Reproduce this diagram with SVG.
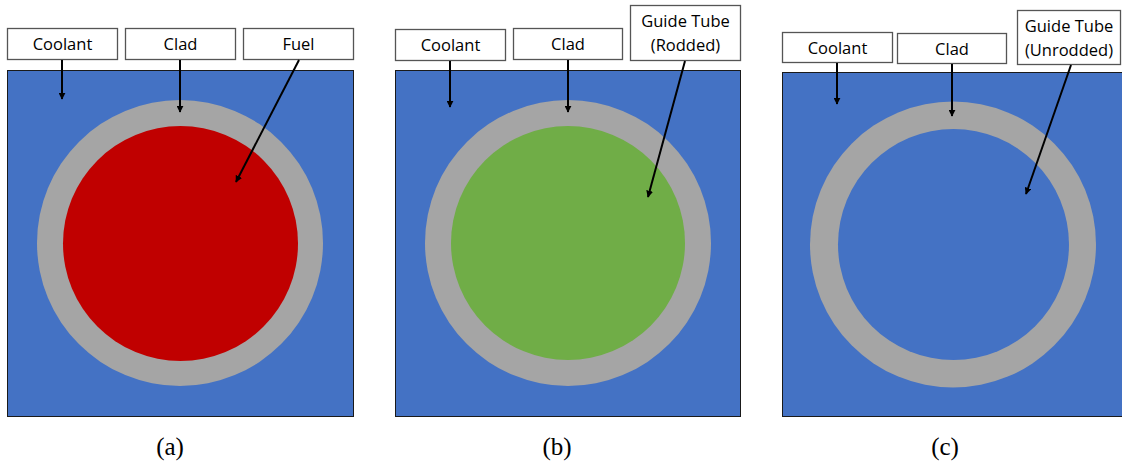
<svg xmlns="http://www.w3.org/2000/svg" width="1122" height="461" viewBox="0 0 1122 461">
  <defs>
    <marker id="arrow" viewBox="0 0 10 10" refX="9" refY="5" markerWidth="7" markerHeight="7" markerUnits="userSpaceOnUse" orient="auto">
      <path d="M0,0 L10,5 L0,10 z" fill="#000"/>
    </marker>
    <style>
      .coolant { fill: #4472C4; stroke: #1a1a1a; stroke-width: 1; }
      .clad { fill: #A5A5A5; }
      .fuel { fill: #C00000; }
      .rodded { fill: #70AD47; }
      .water { fill: #4472C4; }
      .label rect { fill: #fff; stroke: #555; stroke-width: 1.3; }
      .label text { font-family: "Open Sans", "Liberation Sans", sans-serif; font-size: 16.5px; fill: #000; text-anchor: middle; }
      .conn line { stroke: #000; stroke-width: 2; marker-end: url(#arrow); }
      .caption { font-family: "Liberation Serif", "DejaVu Serif", serif; font-size: 25px; fill: #000; text-anchor: middle; }
    </style>
  </defs>

  <rect width="1122" height="461" fill="#fff"/>

  <!-- Panel (a): fuel pin -->
  <g id="pin-a">
    <rect class="coolant" x="7.5" y="70.5" width="346" height="346"/>
    <circle class="clad" cx="180" cy="243" r="143"/>
    <circle class="fuel" cx="180.5" cy="243.5" r="117.5"/>
  </g>
  <g id="label-a-coolant" class="label">
    <rect x="7.5" y="28.5" width="110" height="31"/>
    <text x="62.5" y="50">Coolant</text>
  </g>
  <g id="label-a-clad" class="label">
    <rect x="125.5" y="28.5" width="110" height="31"/>
    <text x="180.5" y="50">Clad</text>
  </g>
  <g id="label-a-fuel" class="label">
    <rect x="243.5" y="28.5" width="110" height="31"/>
    <text x="298.5" y="50">Fuel</text>
  </g>

  <!-- Panel (b): rodded guide tube -->
  <g id="pin-b">
    <rect class="coolant" x="395.5" y="70.5" width="345" height="346"/>
    <circle class="clad" cx="568" cy="243" r="143"/>
    <circle class="rodded" cx="568" cy="243" r="117"/>
  </g>
  <g id="label-b-coolant" class="label">
    <rect x="395.5" y="29.5" width="110" height="31"/>
    <text x="450.5" y="51">Coolant</text>
  </g>
  <g id="label-b-clad" class="label">
    <rect x="513.5" y="28.5" width="109" height="31"/>
    <text x="568" y="50">Clad</text>
  </g>
  <g id="label-b-guide" class="label">
    <rect x="630.5" y="5.5" width="110" height="55"/>
    <text x="685.5" y="27">Guide Tube</text>
    <text x="685.5" y="51">(Rodded)</text>
  </g>

  <!-- Panel (c): unrodded guide tube -->
  <g id="pin-c">
    <rect class="coolant" x="782.5" y="72.5" width="345" height="344"/>
    <circle class="clad" cx="953" cy="244.5" r="143"/>
    <circle class="water" cx="953.5" cy="244.5" r="115.5"/>
  </g>
  <g id="label-c-coolant" class="label">
    <rect x="782.5" y="32.5" width="110" height="30"/>
    <text x="837.5" y="53.5">Coolant</text>
  </g>
  <g id="label-c-clad" class="label">
    <rect x="897.5" y="33.5" width="109" height="30"/>
    <text x="952" y="54.5">Clad</text>
  </g>
  <g id="label-c-guide" class="label">
    <rect x="1017.5" y="10.5" width="103" height="54"/>
    <text x="1069" y="32">Guide Tube</text>
    <text x="1069" y="56">(Unrodded)</text>
  </g>

  <!-- Leader arrows -->
  <g id="connectors" class="conn">
    <line x1="62" y1="60" x2="62" y2="99"/>
    <line x1="180" y1="60" x2="180" y2="112"/>
    <line x1="299" y1="60" x2="236" y2="182"/>
    <line x1="450" y1="61" x2="450" y2="107"/>
    <line x1="568" y1="60" x2="568" y2="112"/>
    <line x1="685" y1="61" x2="648" y2="197"/>
    <line x1="837" y1="63" x2="837" y2="104"/>
    <line x1="952" y1="64" x2="952" y2="116"/>
    <line x1="1071" y1="65" x2="1026" y2="194"/>
  </g>

  <!-- Sub-figure captions -->
  <text class="caption" x="170" y="455">(a)</text>
  <text class="caption" x="557" y="455">(b)</text>
  <text class="caption" x="945" y="455">(c)</text>
</svg>
